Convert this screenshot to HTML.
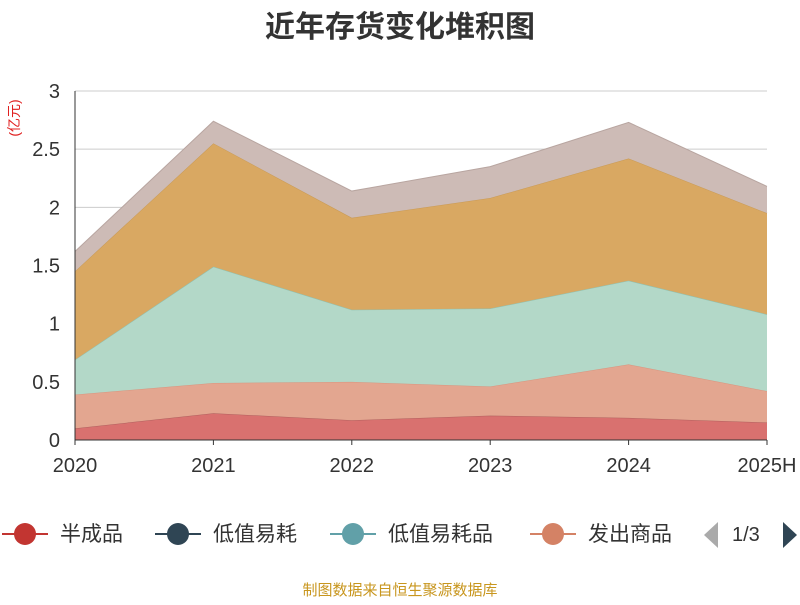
<!DOCTYPE html>
<html><head><meta charset="utf-8"><style>
body{margin:0;background:#fff;font-family:"Liberation Sans","Noto Sans CJK SC",sans-serif;}
</style></head><body>
<svg id="c" width="800" height="600" font-family="Liberation Sans, Noto Sans CJK SC, sans-serif">
<text x="400" y="37" text-anchor="middle" font-size="30" font-weight="bold" fill="#333">近年存货变化堆积图</text>
<text transform="translate(19,118) rotate(-90)" text-anchor="middle" font-size="14" fill="#e02020">(亿元)</text>
<g id="grid"></g><g id="areas"></g><g id="axes"></g>
<g font-size="21" fill="#333">
<g><line x1="2" y1="534" x2="48" y2="534" stroke="#c23531" stroke-width="2"/><circle cx="25" cy="534" r="11" fill="#c23531"/><text x="60" y="541">半成品</text></g>
<g><line x1="155" y1="534" x2="201" y2="534" stroke="#2f4554" stroke-width="2"/><circle cx="178" cy="534" r="11" fill="#2f4554"/><text x="213" y="541">低值易耗</text></g>
<g><line x1="330" y1="534" x2="376" y2="534" stroke="#61a0a8" stroke-width="2"/><circle cx="353" cy="534" r="11" fill="#61a0a8"/><text x="388" y="541">低值易耗品</text></g>
<g><line x1="530" y1="534" x2="576" y2="534" stroke="#d48265" stroke-width="2"/><circle cx="553" cy="534" r="11" fill="#d48265"/><text x="588" y="541">发出商品</text></g>
<rect x="680" y="515" width="20" height="40" fill="#fff"/>
<polygon points="718,522 718,548 704,535" fill="#aaa"/>
<text x="732" y="541" font-size="20">1/3</text>
<polygon points="783,522 783,548 797,535" fill="#2f4554"/>
</g>
<text x="400" y="595" text-anchor="middle" font-size="15" fill="#c8961e">制图数据来自恒生聚源数据库</text>
</svg>
<script>
const categories=["2020","2021","2022","2023","2024","2025H"];
const yTicks=[0,0.5,1,1.5,2,2.5,3];
const s1=[0.10,0.23,0.17,0.21,0.19,0.15];
const s2=[0.29,0.26,0.33,0.25,0.46,0.27];
const s3=[0.30,1.00,0.62,0.67,0.72,0.66];
const s4=[0.76,1.06,0.79,0.95,1.05,0.87];
const s5=[0.17,0.19,0.23,0.27,0.31,0.23];
const series=[s1,s2,s3,s4,s5];
const fills=["#d9716f","#e3a690","#b3d8c8","#d9a862","#cdbbb6"];
const strokes=["#b0605e","#d8957f","#8fc0b0","#c99a55","#b8a5a0"];
const NS="http://www.w3.org/2000/svg";
const x=i=>75+i*(767-75)/(categories.length-1);
const y=v=>440-v*(440-91)/3;
function mk(t,a,p){const e=document.createElementNS(NS,t);for(const k in a)e.setAttribute(k,a[k]);p.appendChild(e);return e;}
const grid=document.getElementById('grid'),areas=document.getElementById('areas'),axes=document.getElementById('axes');
yTicks.forEach(t=>{
 if(t>0){const l=mk('line',{x1:75,x2:767,y1:y(t),y2:y(t),stroke:'#ccc'},grid);
 
 }
 const tx=mk('text',{x:60,y:y(t)+7,'text-anchor':'end','font-size':20,fill:'#333'},axes);tx.textContent=String(t);
 
 
});
let base=categories.map(()=>0);
series.forEach((s,k)=>{
 const top=base.map((b,i)=>b+s[i]);
 let d='M'+top.map((v,i)=>x(i)+','+y(v)).join('L');
 for(let i=base.length-1;i>=0;i--)d+='L'+x(i)+','+y(base[i]);
 const p=mk('path',{d:d+'Z',fill:fills[k],stroke:'none'},areas);
 
 
 const ln=mk('polyline',{points:top.map((v,i)=>x(i)+','+y(v)).join(' '),fill:'none',stroke:strokes[k],'stroke-width':1},areas);
 
 
 base=top;
});
const xa=mk('line',{x1:75,x2:767,y1:440,y2:440,stroke:'#333'},axes);


const ya=mk('line',{x1:75,x2:75,y1:91,y2:440,stroke:'#333'},axes);


categories.forEach((c,i)=>{
 mk('line',{x1:x(i),x2:x(i),y1:440,y2:445,stroke:'#333'},axes);
 const t=mk('text',{x:x(i),y:472,'text-anchor':'middle','font-size':20,fill:'#333'},axes);t.textContent=c;
 
 
});
</script>
</body></html>
